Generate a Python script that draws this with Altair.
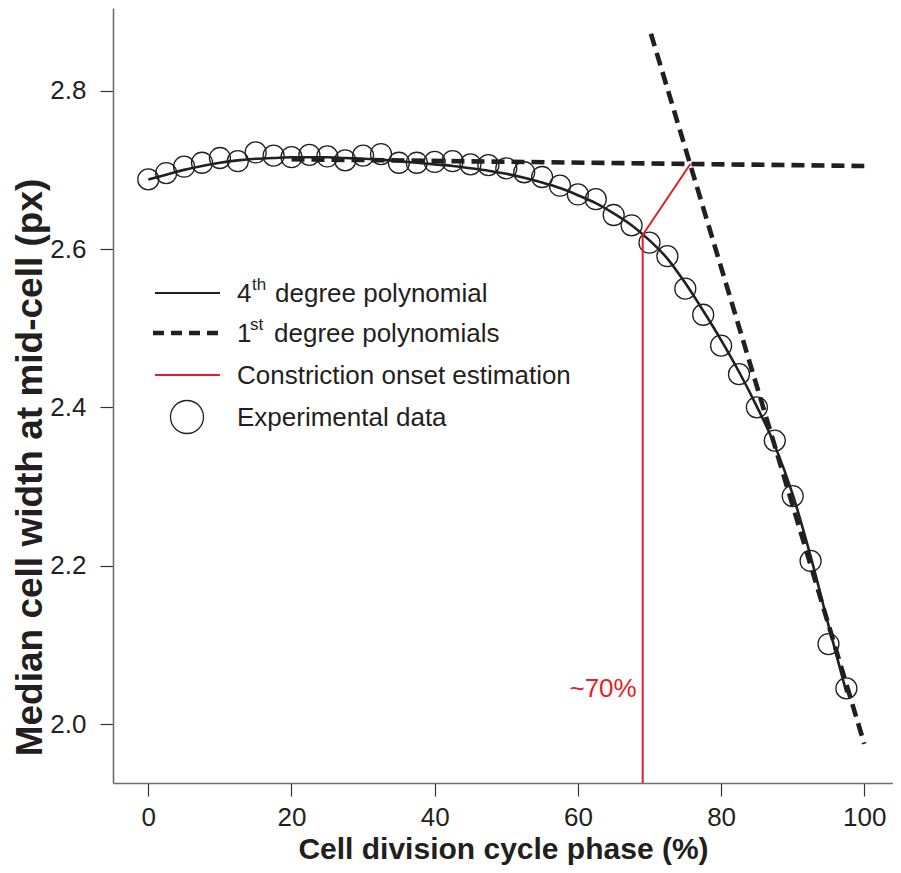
import altair as alt
import pandas as pd

# ---- data ----
phase = [0, 2.5, 5, 7.5, 10, 12.5, 15, 17.5, 20, 22.5, 25, 27.5, 30, 32.5, 35, 37.5,
         40, 42.5, 45, 47.5, 50, 52.5, 55, 57.5, 60, 62.5, 65, 67.5, 70, 72.5, 75,
         77.5, 80, 82.5, 85, 87.5, 90, 92.5, 95, 97.5]
width_exp = [2.688, 2.696, 2.704, 2.709, 2.715, 2.711, 2.722, 2.718, 2.716, 2.719,
             2.717, 2.712, 2.718, 2.720, 2.709, 2.709, 2.710, 2.711, 2.707, 2.706,
             2.702, 2.697, 2.691, 2.680, 2.669, 2.663, 2.643, 2.630, 2.608, 2.591,
             2.550, 2.517, 2.478, 2.442, 2.400, 2.358, 2.288, 2.206, 2.101, 2.045]

poly4_x = [0, 2.5, 5, 7.5, 10, 12.5, 15, 17.5, 20, 22.5, 25, 27.5, 30, 32.5, 35, 37.5,
           40, 42.5, 45, 47.5, 50, 52.5, 55, 57.5, 60, 62.5, 65, 67.5, 70, 72.5, 75,
           77.5, 80, 82.5, 85, 87.5, 90, 92.5, 95, 97.5]
poly4_y = [2.688, 2.694, 2.700, 2.705, 2.709, 2.712, 2.714, 2.715, 2.716, 2.716,
           2.716, 2.715, 2.714, 2.713, 2.711, 2.709, 2.707, 2.705, 2.702, 2.699,
           2.695, 2.690, 2.684, 2.677, 2.668, 2.658, 2.645, 2.630, 2.611, 2.588,
           2.557, 2.522, 2.485, 2.445, 2.401, 2.352, 2.290, 2.212, 2.125, 2.040]

flat_x = [20, 100]
flat_y = [2.7135, 2.7049]
steep_x = [70.2, 100]
steep_y = [2.872, 1.975]

onset_x = [69.05, 69.05, 75.7]
onset_y = [1.9255, 2.6177, 2.7075]
onset_label = ["~70%"]
onset_label_x = [69.05]
onset_label_y = [2.034]

x_ticks = [0, 20, 40, 60, 80, 100]
y_ticks = [2.0, 2.2, 2.4, 2.6, 2.8]
x_domain = [-4.93, 104.01]
y_domain = [1.9255, 2.9045]

legend_main = ["4", "1", "Constriction onset estimation", "Experimental data"]
legend_sup = ["th", "st"]
legend_rest = ["degree polynomial", "degree polynomials"]

x_title = "Cell division cycle phase (%)"
y_title = "Median cell width at mid-cell (px)"

# ---- styling ----
INK = "#231f20"
RED = "#e41e26"
FONT = "Liberation Sans"

xs = alt.Scale(domain=x_domain, nice=False, zero=False)
ys = alt.Scale(domain=y_domain, nice=False, zero=False)

exp_df = pd.DataFrame({"x": phase, "y": width_exp})
poly_df = pd.DataFrame({"x": poly4_x, "y": poly4_y})
flat_df = pd.DataFrame({"x": flat_x, "y": flat_y})
steep_df = pd.DataFrame({"x": steep_x, "y": steep_y})
onset_df = pd.DataFrame({"x": onset_x, "y": onset_y, "o": list(range(len(onset_x)))})
annot_df = pd.DataFrame({"x": onset_label_x, "y": onset_label_y, "t": onset_label})

xa = alt.Axis(values=x_ticks, title=x_title, format="d", labelPadding=8,
              titleY=75, titleBaseline="alphabetic", titleFontSize=30)
ya = alt.Axis(values=y_ticks, title=y_title, format=".1f", labelPadding=14,
              titleAngle=-90, titleX=-72, titleY=459, titleBaseline="alphabetic",
              titleFontSize=37)

X = alt.X("x:Q", scale=xs, axis=xa)
Y = alt.Y("y:Q", scale=ys, axis=ya)

points = alt.Chart(exp_df).mark_point(
    shape="circle", filled=False, size=441, stroke=INK, strokeWidth=1.3, opacity=1
).encode(x=X, y=Y)

poly = alt.Chart(poly_df).mark_line(
    color=INK, strokeWidth=2.6, interpolate="monotone"
).encode(x=X, y=Y)

flat = alt.Chart(flat_df).mark_line(
    color=INK, strokeWidth=4.6, strokeDash=[13, 7]
).encode(x=X, y=Y)

steep = alt.Chart(steep_df).mark_line(
    color=INK, strokeWidth=4.6, strokeDash=[13, 7]
).encode(x=X, y=Y)

onset = alt.Chart(onset_df).mark_line(color=RED, strokeWidth=2).encode(
    x=X, y=Y, order="o:Q")

annot = alt.Chart(annot_df).mark_text(
    color=RED, font=FONT, fontSize=26, align="right", baseline="alphabetic", dx=-6
).encode(x=X, y=Y, text="t:N")

one = pd.DataFrame({"k": [0]})

def txt(s, x, y, size=26):
    return alt.Chart(one).mark_text(
        text=s, color=INK, font=FONT, fontSize=size, align="left", baseline="alphabetic"
    ).encode(x=alt.value(x), y=alt.value(y))

leg_solid = alt.Chart(one).mark_rule(color=INK, strokeWidth=2.2).encode(
    x=alt.value(42), x2=alt.value(107), y=alt.value(285))
leg_dash = alt.Chart(one).mark_rule(color=INK, strokeWidth=4.6, strokeDash=[11, 7]).encode(
    x=alt.value(40), x2=alt.value(107), y=alt.value(325))
leg_red = alt.Chart(one).mark_rule(color=RED, strokeWidth=2).encode(
    x=alt.value(42), x2=alt.value(107), y=alt.value(367))
leg_circ = alt.Chart(one).mark_point(
    shape="circle", filled=False, size=1089, stroke=INK, strokeWidth=1.3, opacity=1
).encode(x=alt.value(74), y=alt.value(409))

legend = [
    leg_solid, leg_dash, leg_red, leg_circ,
    txt(legend_main[0], 124, 294), txt(legend_sup[0], 139, 282, 17),
    txt(legend_rest[0], 162, 294),
    txt(legend_main[1], 124, 334), txt(legend_sup[1], 137, 322, 17),
    txt(legend_rest[1], 161, 334),
    txt(legend_main[2], 124, 376),
    txt(legend_main[3], 124, 418),
]

chart = alt.layer(points, poly, flat, steep, onset, annot, *legend).properties(
    width=780, height=775,
    autosize=alt.AutoSizeParams(type="none"),
    padding={"left": 105, "top": 0, "right": 0, "bottom": 82},
).configure_view(stroke=None).configure_axis(
    grid=False, domainColor="#6e6e6e", domainWidth=1.6, tickColor="#333333",
    tickWidth=1.2, tickSize=13, labelFont=FONT, labelFontSize=26, labelColor=INK,
    titleFont=FONT, titleFontWeight="bold", titleColor=INK,
)

chart.save("out.html", embed_options={"renderer": "svg", "actions": False})
